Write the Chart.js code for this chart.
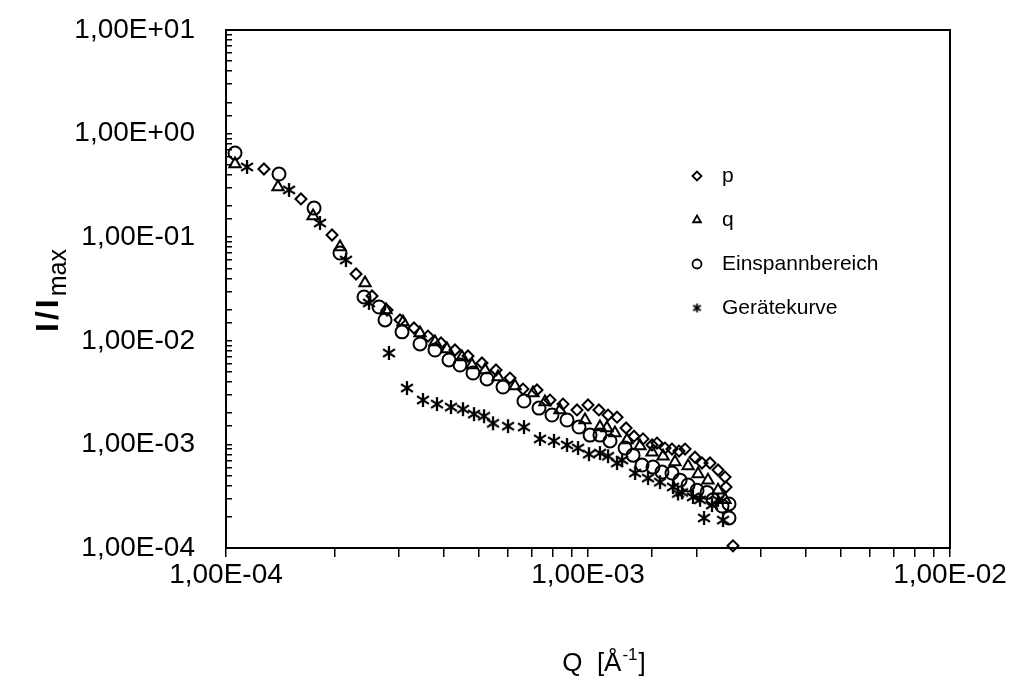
<!DOCTYPE html>
<html lang="de">
<head>
  <meta charset="UTF-8" />
  <title>I/Imax gegen Q</title>
  <script src="https://cdn.jsdelivr.net/npm/chart.js"></script>
  <style>
    html, body { margin: 0; padding: 0; background: #fff; }
    #wrap { width: 1030px; height: 679px; }
  </style>
</head>
<body>
  <div id="wrap"><canvas id="chart"></canvas></div>

  <script>
    // Q in 1/Angstrom, intensity normalised to Imax
    const pQ = [1.273e-4, 1.611e-4, 1.963e-4, 2.287e-4, 2.532e-4, 2.785e-4, 3.025e-4, 3.306e-4, 3.614e-4, 3.926e-4,
                4.291e-4, 4.661e-4, 5.095e-4, 5.570e-4, 6.089e-4, 6.613e-4, 7.229e-4, 7.852e-4, 8.528e-4, 9.324e-4,
                1.000e-3, 1.072e-3, 1.136e-3, 1.203e-3, 1.274e-3, 1.340e-3, 1.419e-3, 1.503e-3, 1.551e-3, 1.632e-3,
                1.706e-3, 1.784e-3, 1.854e-3, 1.975e-3, 2.065e-3, 2.173e-3, 2.287e-3, 2.391e-3, 2.406e-3, 2.515e-3];
    const pI = [0.455, 0.234, 0.105, 0.0441, 0.0271, 0.0198, 0.0159, 0.0133, 0.0111, 0.00953,
                0.00815, 0.00713, 0.00611, 0.00523, 0.00437, 0.00342, 0.00335, 0.00268, 0.00245, 0.00215,
                0.00240, 0.00215, 0.00192, 0.00183, 0.00144, 0.00120, 0.00113, 0.000987, 0.00103, 0.000922,
                0.000902, 0.000862, 0.000902, 0.000752, 0.000661, 0.000661, 0.000566, 0.000484, 0.000388, 0.000105];

    const qQ = [1.059e-4, 1.392e-4, 1.740e-4, 2.065e-4, 2.421e-4, 2.767e-4, 3.083e-4, 3.435e-4, 3.778e-4, 4.078e-4,
                4.486e-4, 4.781e-4, 5.194e-4, 5.641e-4, 6.286e-4, 7.048e-4, 7.606e-4, 8.367e-4, 9.811e-4, 1.079e-3,
                1.128e-3, 1.187e-3, 1.282e-3, 1.392e-3, 1.503e-3, 1.612e-3, 1.739e-3, 1.890e-3, 2.014e-3, 2.145e-3,
                2.287e-3, 2.391e-3];
    const qI = [0.509, 0.305, 0.160, 0.0804, 0.0361, 0.0198, 0.0152, 0.0119, 0.00974, 0.00833,
                0.00697, 0.00584, 0.00523, 0.00447, 0.00366, 0.00313, 0.00257, 0.00215, 0.00172, 0.00147,
                0.00144, 0.00129, 0.00110, 0.000965, 0.000842, 0.000769, 0.000676, 0.000618, 0.000517, 0.000452,
                0.000360, 0.000292];

    const eQ = [1.059e-4, 1.401e-4, 1.751e-4, 2.065e-4, 2.406e-4, 2.647e-4, 2.750e-4, 3.064e-4, 3.435e-4, 3.778e-4,
                4.130e-4, 4.430e-4, 4.812e-4, 5.260e-4, 5.823e-4, 6.655e-4, 7.321e-4, 7.953e-4, 8.750e-4, 9.443e-4,
                1.013e-3, 1.079e-3, 1.150e-3, 1.266e-3, 1.332e-3, 1.410e-3, 1.512e-3, 1.601e-3, 1.706e-3, 1.796e-3,
                1.890e-3, 2.001e-3, 2.132e-3, 2.215e-3, 2.346e-3, 2.452e-3, 2.452e-3];
    const eI = [0.650, 0.407, 0.191, 0.0704, 0.0265, 0.0212, 0.0159, 0.0122, 0.00932, 0.00815,
                0.00653, 0.00584, 0.00489, 0.00428, 0.00358, 0.00262, 0.00224, 0.00192, 0.00172, 0.00147,
                0.00123, 0.00123, 0.00108, 0.000922, 0.000787, 0.000632, 0.000604, 0.000541, 0.000529, 0.000452,
                0.000406, 0.000360, 0.000344, 0.000292, 0.000254, 0.000266, 0.000195];

    const gQ = [1.143e-4, 1.493e-4, 1.818e-4, 2.145e-4, 2.483e-4, 2.820e-4, 3.162e-4, 3.501e-4, 3.827e-4, 4.183e-4,
                4.515e-4, 4.843e-4, 5.161e-4, 5.465e-4, 6.012e-4, 6.655e-4, 7.368e-4, 8.054e-4, 8.750e-4, 9.384e-4,
                1.006e-3, 1.079e-3, 1.136e-3, 1.203e-3, 1.242e-3, 1.349e-3, 1.465e-3, 1.581e-3, 1.717e-3, 1.773e-3,
                1.819e-3, 1.950e-3, 2.039e-3, 2.092e-3, 2.201e-3, 2.287e-3, 2.361e-3];
    const gI = [0.476, 0.286, 0.137, 0.0602, 0.0232, 0.00762, 0.00350, 0.00268, 0.00245, 0.00229,
                0.00219, 0.00196, 0.00187, 0.00160, 0.00150, 0.00147, 0.00113, 0.00108, 0.000987, 0.000922,
                0.000805, 0.000824, 0.000769, 0.000661, 0.000707, 0.000529, 0.000473, 0.000432, 0.000388, 0.000336,
                0.000344, 0.000311, 0.000292, 0.000195, 0.000260, 0.000292, 0.000186];

    const seriesLabels = ['p', 'q', 'Einspannbereich', 'Gerätekurve'];
    const xRange = [1e-4, 1e-2];
    const yRange = [1e-4, 1e1];

    const FONT = '"Liberation Sans", Arial, sans-serif';

    function pts(xs, ys) {
      return xs.map((x, i) => ({ x: x, y: ys[i] }));
    }

    function isDecade(v) {
      const l = Math.log10(v);
      return Math.abs(l - Math.round(l)) < 1e-6;
    }

    // 1,00E-04 style labels
    function sci(v) {
      const e = Math.round(Math.log10(v));
      return '1,00E' + (e < 0 ? '-' : '+') + String(Math.abs(e)).padStart(2, '0');
    }

    function makeStar(size, lw) {
      const c = document.createElement('canvas');
      c.width = c.height = size;
      const g = c.getContext('2d');
      const m = size / 2, r = size / 2 - 1;
      g.strokeStyle = '#000';
      g.lineWidth = lw;
      g.beginPath();
      g.moveTo(m, m - r); g.lineTo(m, m + r);
      g.moveTo(m - r * 0.85, m - r * 0.55); g.lineTo(m + r * 0.85, m + r * 0.55);
      g.moveTo(m + r * 0.85, m - r * 0.55); g.lineTo(m - r * 0.85, m + r * 0.55);
      g.stroke();
      return c;
    }

    const starBig = makeStar(16, 2.3);
    const starSmall = makeStar(11, 1.8);

    const frame = {
      id: 'frame',
      afterDraw(chart) {
        const { ctx, chartArea: a } = chart;
        ctx.save();
        ctx.strokeStyle = '#000';
        ctx.lineWidth = 2;
        ctx.strokeRect(a.left, a.top, a.right - a.left, a.bottom - a.top);
        ctx.restore();
      }
    };

    const legendBox = {
      id: 'legendBox',
      afterDraw(chart) {
        const ctx = chart.ctx;
        const styles = [
          { pointStyle: 'rectRot', radius: 4.5 },
          { pointStyle: 'triangle', radius: 4.5 },
          { pointStyle: 'circle', radius: 4.5 },
          { pointStyle: starSmall, radius: 5 }
        ];
        ctx.save();
        ctx.font = '21px ' + FONT;
        ctx.textBaseline = 'middle';
        ctx.fillStyle = '#000';
        seriesLabels.forEach((lab, i) => {
          const y = 176 + i * 44;
          ctx.save();
          ctx.strokeStyle = '#000';
          ctx.fillStyle = 'rgba(0,0,0,0)';
          ctx.lineWidth = 1.8;
          Chart.helpers.drawPoint(ctx, Object.assign({ rotation: 0, borderWidth: 1.8 }, styles[i]), 697, y);
          ctx.restore();
          ctx.fillText(lab, 722, y);
        });
        ctx.restore();
      }
    };

    const axisTitles = {
      id: 'axisTitles',
      afterDraw(chart) {
        const ctx = chart.ctx;
        ctx.save();
        ctx.fillStyle = '#000';
        ctx.textBaseline = 'alphabetic';
        ctx.textAlign = 'left';

        // y title, rotated: I/I with subscript max
        ctx.save();
        ctx.translate(58, 332);
        ctx.rotate(-Math.PI / 2);
        ctx.font = 'bold 32px ' + FONT;
        let tx = 0;
        ['I', '/', 'I'].forEach(ch => {
          ctx.fillText(ch, tx, 0);
          tx += ctx.measureText(ch).width + 3;
        });
        ctx.font = '25px ' + FONT;
        ctx.fillText('max', tx, 8);
        ctx.restore();

        // x title: Q [Å^-1]
        const a = 'Q  [Å', b = '-1', c = ']';
        ctx.font = '26px ' + FONT;
        const wa = ctx.measureText(a).width, wc = ctx.measureText(c).width;
        ctx.font = '17px ' + FONT;
        const wb = ctx.measureText(b).width;
        let x = 603 - (wa + wb + wc) / 2;
        const base = 671;
        ctx.font = '26px ' + FONT;
        ctx.fillText(a, x, base);
        x += wa + 1;
        ctx.font = '17px ' + FONT;
        ctx.fillText(b, x, base - 11);
        x += wb + 1;
        ctx.font = '26px ' + FONT;
        ctx.fillText(c, x, base);
        ctx.restore();
      }
    };

    const ds = (label, data, style, radius) => ({
      label: label,
      data: data,
      pointStyle: style,
      pointRadius: radius,
      pointBorderWidth: 2,
      pointBorderColor: '#000',
      pointBackgroundColor: 'rgba(0,0,0,0)',
      showLine: false,
      clip: false
    });

    new Chart(document.getElementById('chart'), {
      type: 'scatter',
      data: {
        datasets: [
          ds(seriesLabels[0], pts(pQ, pI), 'rectRot', 5.5),
          ds(seriesLabels[1], pts(qQ, qI), 'triangle', 6.5),
          ds(seriesLabels[2], pts(eQ, eI), 'circle', 6.5),
          ds(seriesLabels[3], pts(gQ, gI), starBig, 8)
        ]
      },
      options: {
        responsive: true,
        maintainAspectRatio: false,
        animation: false,
        events: [],
        layout: { padding: { top: 30, right: 80, bottom: 0, left: 0 } },
        plugins: {
          legend: { display: false },
          tooltip: { enabled: false }
        },
        scales: {
          x: {
            type: 'logarithmic',
            min: xRange[0],
            max: xRange[1],
            afterFit(scale) { scale.height = 131; },
            border: { color: '#000', width: 2 },
            grid: { drawOnChartArea: false, drawTicks: true, tickLength: 9, color: '#000', lineWidth: 1.5 },
            ticks: {
              autoSkip: false,
              maxRotation: 0,
              padding: 1,
              color: '#000',
              font: { family: FONT, size: 28 },
              callback: v => isDecade(v) ? sci(v) : ''
            }
          },
          y: {
            type: 'logarithmic',
            min: yRange[0],
            max: yRange[1],
            afterFit(scale) {
              scale.width = 226;
              scale.paddingTop = 0;
              scale.paddingBottom = 0;
            },
            border: { color: '#000', width: 2 },
            grid: { drawOnChartArea: false, drawTicks: true, tickLength: -6, color: '#000', lineWidth: 1.5 },
            ticks: {
              autoSkip: false,
              padding: 37,
              color: '#000',
              font: { family: FONT, size: 28 },
              callback: v => isDecade(v) ? sci(v) : ''
            }
          }
        }
      },
      plugins: [frame, legendBox, axisTitles]
    });
  </script>
</body>
</html>
